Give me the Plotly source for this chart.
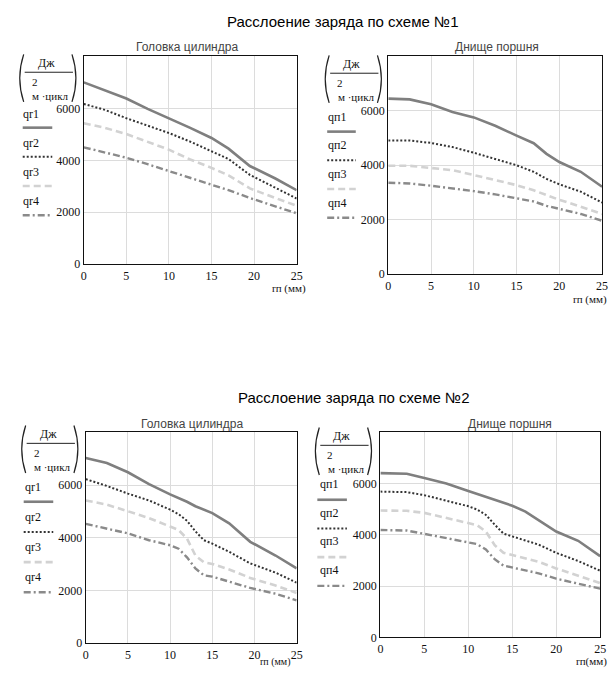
import plotly.graph_objects as go

W, H = 616, 674

# ---------------- data ----------------
# Scheme 1, cylinder head
x_g1 = [0, 2.5, 5, 7.5, 10, 12.5, 15, 17, 19.5, 22.5, 25]
qg1_1 = [7000, 6700, 6380, 5980, 5620, 5250, 4860, 4450, 3780, 3300, 2850]
qg2_1 = [6170, 5940, 5620, 5330, 5050, 4720, 4350, 4050, 3440, 2960, 2530]
qg3_1 = [5430, 5250, 5010, 4720, 4410, 4030, 3710, 3420, 2920, 2550, 2250]
qg4_1 = [4500, 4300, 4100, 3850, 3590, 3330, 3080, 2850, 2550, 2230, 1960]

# Scheme 1, piston crown
x_p1 = [0, 2.5, 5, 7.5, 10, 12.5, 15, 17, 18.5, 20, 22.5, 25]
qp1_1 = [6450, 6420, 6240, 5960, 5760, 5450, 5090, 4810, 4420, 4120, 3760, 3210]
qp2_1 = [4910, 4910, 4820, 4670, 4460, 4240, 4000, 3760, 3500, 3300, 3030, 2630]
qp3_1 = [3980, 3980, 3900, 3820, 3640, 3450, 3270, 3080, 2900, 2730, 2480, 2210]
qp4_1 = [3360, 3330, 3250, 3160, 3050, 2930, 2790, 2670, 2510, 2390, 2210, 1960]

# Scheme 2, cylinder head
x_g2 = [0, 2.5, 5, 7.5, 10, 11, 12, 13, 14, 15, 17, 19.5, 22.5, 25]
qg1_2 = [7030, 6840, 6490, 6040, 5650, 5520, 5370, 5200, 5060, 4940, 4550, 3850, 3330, 2840]
qg2_2 = [6230, 5970, 5680, 5420, 5070, 4900, 4650, 4250, 3910, 3780, 3470, 3030, 2680, 2300]
qg3_2 = [5420, 5260, 5010, 4750, 4430, 4300, 3970, 3330, 3070, 3010, 2800, 2480, 2190, 1910]
qg4_2 = [4530, 4360, 4170, 3910, 3720, 3590, 3260, 2840, 2580, 2530, 2340, 2100, 1880, 1630]

# Scheme 2, piston crown
x_p2 = [0, 3, 5, 7.5, 10, 11, 12, 13, 14, 15, 16.5, 18, 20, 22.5, 25]
qp1_2 = [6410, 6390, 6220, 6010, 5710, 5600, 5500, 5380, 5260, 5140, 4910, 4570, 4130, 3770, 3170]
qp2_2 = [5690, 5670, 5550, 5330, 5120, 4990, 4780, 4400, 4050, 3940, 3790, 3620, 3300, 2980, 2600]
qp3_2 = [4950, 4940, 4860, 4660, 4470, 4380, 4130, 3600, 3300, 3210, 3080, 2950, 2690, 2410, 2120]
qp4_2 = [4190, 4170, 4040, 3870, 3720, 3640, 3430, 3050, 2800, 2730, 2620, 2500, 2290, 2100, 1900]

x_ticks = [0, 5, 10, 15, 20, 25]
y_ticks = [0, 2000, 4000, 6000]

titles = ["Расслоение заряда по схеме №1", "Расслоение заряда по схеме №2"]
subtitles = ["Головка цилиндра", "Днище поршня", "Головка цилиндра", "Днище поршня"]
names_g = ["qr1", "qr2", "qr3", "qr4"]
names_p = ["qп1", "qп2", "qп3", "qп4"]
x_title = ["rп (мм)", "rп (мм)", "rп (мм)", "rп(мм)"]

# ---------------- styles ----------------
styles = [
    dict(color="#7f7f7f", width=2.6, dash="solid"),
    dict(color="#333333", width=2.0, dash="2px,2px"),
    dict(color="#d2d2d2", width=2.6, dash="7px,4px"),
    dict(color="#8a8a8a", width=2.4, dash="7px,3px,2px,3px"),
]

def fx(px):
    return px / W

def fy(py):
    return 1 - py / H

panels = [
    dict(x=x_g1, ys=[qg1_1, qg2_1, qg3_1, qg4_1], names=names_g, dom=(82, 298, 57, 267)),
    dict(x=x_p1, ys=[qp1_1, qp2_1, qp3_1, qp4_1], names=names_p, dom=(391, 608, 57, 277)),
    dict(x=x_g2, ys=[qg1_2, qg2_2, qg3_2, qg4_2], names=names_g, dom=(84, 298, 437, 650)),
    dict(x=x_p2, ys=[qp1_2, qp2_2, qp3_2, qp4_2], names=names_p, dom=(383, 606, 437, 644)),
]

fig = go.Figure()
tick_font = dict(family="Liberation Serif", size=12, color="#111")
layout = dict(
    width=W, height=H, margin=dict(l=0, r=0, t=0, b=0),
    paper_bgcolor="white", plot_bgcolor="white", showlegend=False,
)

for i, p in enumerate(panels):
    n = "" if i == 0 else str(i + 1)
    x0, x1, y0, y1 = p["dom"]
    for j, yv in enumerate(p["ys"]):
        fig.add_trace(go.Scatter(x=p["x"], y=yv, mode="lines", name=p["names"][j],
                                 line=styles[j], xaxis="x" + n, yaxis="y" + n,
                                 hoverinfo="skip"))
    layout["xaxis" + n] = dict(
        domain=[fx(x0), fx(x1)], anchor="y" + n, range=[0, 25], tickvals=x_ticks,
        showline=True, mirror=True, linecolor="#111", linewidth=1.3,
        showgrid=True, gridcolor="#dcdcdc", gridwidth=1, zeroline=False,
        tickfont=tick_font, ticks="", fixedrange=True, ticklabeloverflow="allow",
    )
    layout["yaxis" + n] = dict(
        domain=[fy(y1), fy(y0)], anchor="x" + n, range=[0, 8000], tickvals=y_ticks,
        showline=True, mirror=True, linecolor="#111", linewidth=1.3,
        showgrid=True, gridcolor="#dcdcdc", gridwidth=1, zeroline=False,
        tickfont=tick_font, ticks="", fixedrange=True, ticklabeloverflow="allow",
    )

fig.update_layout(**layout)

ann = []
shapes = []

def text(x, y, s, size=12, family="Liberation Serif", color="#111", xanchor="center"):
    ann.append(dict(x=fx(x), y=fy(y), xref="paper", yref="paper", text=s, showarrow=False,
                    xanchor=xanchor, yanchor="middle",
                    font=dict(family=family, size=size, color=color)))

def seg(xa, ya, xb, yb, **line):
    shapes.append(dict(type="line", xref="paper", yref="paper",
                       x0=fx(xa), y0=fy(ya), x1=fx(xb), y1=fy(yb), line=line))

def paren(x, ytop, ybot, left=True):
    ym = (ytop + ybot) / 2
    if left:
        xe, xc = x + 6, x - 2
    else:
        xe, xc = x - 6, x + 2
    path = "M {:.5f},{:.5f} Q {:.5f},{:.5f} {:.5f},{:.5f}".format(
        fx(xe), fy(ytop), fx(xc), fy(ym), fx(xe), fy(ybot))
    shapes.append(dict(type="path", xref="paper", yref="paper", path=path,
                       line=dict(color="#222", width=1.2)))

# main titles
text(345, 22, titles[0], size=15, family="Liberation Sans", color="#000")
text(356, 402, titles[1], size=15, family="Liberation Sans", color="#000")

# subtitles
for (sx, sy), s in zip([(187, 47), (501, 47), (192, 428), (515, 428)], subtitles):
    text(sx, sy, s, size=12, family="Liberation Sans", color="#444")

# unit blocks
for bx, by in [(13, 55), (323, 56), (15, 430), (313, 432)]:
    paren(bx + 2, by, by + 48, left=True)
    paren(bx + 63, by, by + 48, left=False)
    text(bx + 31, by + 9, "Дж", size=12)
    seg(bx + 9, by + 18, bx + 58, by + 18, color="#222", width=1)
    text(bx + 19, by + 28, "2", size=11)
    text(bx + 35, by + 42, "м ·цикл", size=11)

# legends (label above line sample)
legends = [
    (115, 129, 29.5, 20, 50, 28, names_g),
    (118, 133, 29.0, 329, 358, 339, names_p),
    (492, 507, 30.5, 21, 51, 30, names_g),
    (489, 505, 29.0, 319, 349, 331, names_p),
]
for ly, lly, sp, lx0, lx1, lcx, nm in legends:
    for j in range(4):
        text(lcx, ly + j * sp, nm[j], size=12)
        st = styles[j]
        seg(lx0, lly + j * sp, lx1, lly + j * sp, color=st["color"], width=st["width"], dash=st["dash"])

# x axis titles
text(290, 292, x_title[0], size=11)
text(615, 303, x_title[1], size=11, xanchor="right")
text(277, 669, x_title[2], size=10)
text(615, 668, x_title[3], size=11, xanchor="right")

fig.update_layout(annotations=ann, shapes=shapes)
fig.write_html(
    "out.html",
    config={"displayModeBar": False},
    post_script="document.body.style.margin='0';document.body.style.overflow='hidden';",
)
